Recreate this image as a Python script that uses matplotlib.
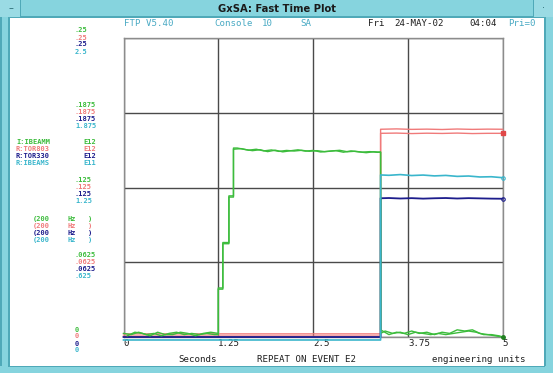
import matplotlib
matplotlib.use('Agg')
import matplotlib.pyplot as plt
from matplotlib.patches import Rectangle
from matplotlib.transforms import blended_transform_factory, offset_copy

# ---------------- data ----------------
x_ticks = [0, 1.25, 2.5, 3.75, 5]
x_tick_labels = ["0", "1.25", "2.5", "3.75", "5"]
y_ticks = [0.25, 0.1875, 0.125, 0.0625, 0]
scale_green = [".25", ".1875", ".125", ".0625", "0"]
scale_red = [".25", ".1875", ".125", ".0625", "0"]
scale_blue = [".25", ".1875", ".125", ".0625", "0"]
scale_cyan = ["2.5", "1.875", "1.25", ".625", "0"]

names = ["I:IBEAMM", "R:TOR803", "R:TOR330", "R:IBEAMS"]
exps = ["E12", "E12", "E12", "E11"]
rates = ["(200", "(200", "(200", "(200"]

green_a_t = [0.00, 0.10, 0.20, 0.30, 0.40, 0.50, 0.60, 0.70, 0.80, 0.90, 1.00, 1.10, 1.20, 1.25,
             1.25, 1.31, 1.31, 1.39, 1.39, 1.45, 1.45,
             1.55, 1.65, 1.75, 1.85, 1.95, 2.05, 2.15, 2.25, 2.35, 2.45, 2.55, 2.65, 2.75, 2.85,
             2.95, 3.05, 3.15, 3.25, 3.35, 3.39,
             3.39, 3.45, 3.55, 3.65, 3.75, 3.85, 3.95, 4.05, 4.15, 4.25, 4.35, 4.45, 4.55, 4.65,
             4.75, 4.85, 4.95, 5.00]
green_a_v = [0.003, 0.002, 0.004, 0.002, 0.003, 0.001, 0.003, 0.004, 0.002, 0.003, 0.002, 0.003, 0.002, 0.002,
             0.041, 0.041, 0.078, 0.078, 0.117, 0.117, 0.157,
             0.1575, 0.1562, 0.1570, 0.1556, 0.1564, 0.1552, 0.1560, 0.1555, 0.1561, 0.1553, 0.1558,
             0.1550, 0.1556, 0.1561, 0.1549, 0.1553, 0.1546, 0.1550, 0.1544, 0.1547,
             0.003, 0.005, 0.003, 0.004, 0.002, 0.004, 0.003, 0.002, 0.003, 0.002, 0.003, 0.004,
             0.005, 0.004, 0.002, 0.002, 0.001, 0.000]

green_b_t = [0.05, 0.15, 0.25, 0.35, 0.45, 0.55, 0.65, 0.75, 0.85, 0.95, 1.05, 1.15, 1.25,
             1.25, 1.31, 1.31, 1.39, 1.39, 1.45, 1.45,
             1.50, 1.60, 1.70, 1.80, 1.90, 2.00, 2.10, 2.20, 2.30, 2.40, 2.50, 2.60, 2.70, 2.80,
             2.90, 3.00, 3.10, 3.20, 3.30, 3.39,
             3.39, 3.50, 3.60, 3.70, 3.80, 3.90, 4.00, 4.10, 4.20, 4.30, 4.40, 4.50, 4.60, 4.70,
             4.80, 4.90, 5.00]
green_b_v = [0.001, 0.004, 0.003, 0.001, 0.004, 0.002, 0.002, 0.004, 0.003, 0.001, 0.003, 0.004, 0.003,
             0.040, 0.040, 0.079, 0.079, 0.118, 0.118, 0.158,
             0.1580, 0.1568, 0.1558, 0.1566, 0.1550, 0.1562, 0.1548, 0.1557, 0.1565, 0.1554, 0.1560,
             0.1547, 0.1552, 0.1558, 0.1545, 0.1556, 0.1548, 0.1541, 0.1549, 0.1545,
             0.006, 0.002, 0.004, 0.003, 0.005, 0.003, 0.004, 0.002, 0.004, 0.003, 0.006, 0.005,
             0.006, 0.003, 0.002, 0.001, 0.000]

red_a_t = [0.0, 3.39, 3.39, 3.60, 3.80, 4.00, 4.20, 4.40, 4.60, 4.80, 5.00]
red_a_v = [0.0026, 0.0026, 0.1737, 0.1740, 0.1736, 0.1738, 0.1735, 0.1739, 0.1736, 0.1738, 0.1737]
red_b_t = [0.0, 3.39, 3.39, 3.60, 3.80, 4.00, 4.20, 4.40, 4.60, 4.80, 5.00]
red_b_v = [0.0008, 0.0008, 0.1703, 0.1705, 0.1701, 0.1704, 0.1702, 0.1705, 0.1701, 0.1703, 0.1703]

blue_t = [0.0, 3.39, 3.39, 3.50, 3.65, 3.80, 3.95, 4.10, 4.25, 4.40, 4.55, 4.70, 4.85, 5.00]
blue_v = [0.000, 0.000, 0.1160, 0.1162, 0.1158, 0.1161, 0.1157, 0.1160, 0.1162, 0.1158, 0.1161,
          0.1159, 0.1157, 0.1156]

cyan_t = [0.0, 3.39, 3.39, 3.50, 3.65, 3.80, 3.95, 4.10, 4.25, 4.40, 4.55, 4.70, 4.85, 5.00]
cyan_v = [-0.025, -0.025, 1.355, 1.352, 1.358, 1.350, 1.354, 1.347, 1.351, 1.343, 1.346, 1.338,
          1.340, 1.332]

# ---------------- styling ----------------
W, H = 553, 373
GREEN = '#3cbc3c'
RED = '#f07a7a'
BLUE = '#1c1c8c'
CYAN = '#3ab6cc'
HEAD = '#4aaac4'
FRAME = '#86d4de'
FRAME_D = '#4fa9b8'
MONO = 'DejaVu Sans Mono'
FS = 6.6
FS_S = 5.0

fig = plt.figure(figsize=(W / 100, H / 100), dpi=100)
fig.patch.set_facecolor('white')


def fx(x):
    return x / W


def fy(y):
    return 1 - y / H


def rect(x0, y0, x1, y1, color, z=0):
    fig.patches.append(Rectangle((fx(x0), fy(y1)), (x1 - x0) / W, (y1 - y0) / H,
                                 transform=fig.transFigure, facecolor=color,
                                 edgecolor='none', zorder=z))


def txt(x, y, s, color='#202020', **kw):
    fig.text(fx(x), fy(y), s, color=color, fontsize=kw.pop('fontsize', FS),
             family=kw.pop('family', MONO), va=kw.pop('va', 'center'),
             ha=kw.pop('ha', 'left'), **kw)


# window chrome
rect(0, 0, W, 17, FRAME)
rect(0, 16, W, 17.5, FRAME_D)
rect(0, 0, 21, 17, '#9adbe4')
rect(20, 0, 21, 17, FRAME_D)
rect(533, 0, 534, 17, FRAME_D)
rect(534, 0, W, 17, '#9adbe4')
rect(0, 17, 9, H, FRAME)
rect(8, 17, 9.5, 366, FRAME_D)
rect(0, 17, 1.5, H, FRAME_D)
rect(545, 17, W, H, FRAME)
rect(544, 17, 545.5, 366, FRAME_D)
rect(0, 366, W, H, FRAME)
rect(8, 365.5, 545, 367, FRAME_D)
txt(10.5, 8.5, '\u2013', color='#2a6a74', ha='center', family='DejaVu Sans', fontsize=7)
txt(543.5, 8.5, '\u00b7', color='#2a6a74', ha='center', family='DejaVu Sans', fontsize=7)
txt(277, 8.5, 'GxSA: Fast Time Plot', color='#1a1a1a', ha='center',
    family='DejaVu Sans', fontsize=7.2, fontweight='bold')

# header line
txt(124, 24, 'FTP V5.40', color=HEAD)
txt(214, 24, 'Console', color=HEAD)
txt(262, 24, '10', color=HEAD)
txt(300, 24, 'SA', color=HEAD)
txt(368, 24, 'Fri', color='#202020')
txt(394, 24, '24-MAY-02', color='#202020')
txt(469, 24, '04:04', color='#202020')
txt(508, 24, 'Pri=0', color=HEAD)

# ---------------- plot axes ----------------
L, R, T, B = 123.5, 502.7, 38, 337
ax = fig.add_axes([fx(L), fy(B), (R - L) / W, (B - T) / H])
ax.set_xlim(0, 5)
ax.set_ylim(0, 0.25)
ax.set_xticks(x_ticks)
ax.set_xticklabels(x_tick_labels, ha='left', family=MONO, fontsize=FS, color='#202020')
ax.set_yticks(y_ticks)
ax.tick_params(length=0, labelleft=False, pad=1.5)
ax.grid(True, color='#4a4a4a', lw=1.0)
for sp in ax.spines.values():
    sp.set_color('#8c8c8c')
    sp.set_linewidth(1.0)
ax.set_facecolor('white')

ax.plot(red_a_t, red_a_v, color=RED, lw=1.0, clip_on=False, zorder=3)
ax.plot(red_b_t, red_b_v, color=RED, lw=1.0, clip_on=False, zorder=3)
ax.plot(red_b_t[-1:], red_b_v[-1:], 's', color='#e04848', ms=2.5, clip_on=False, zorder=3)
ax.plot(blue_t, blue_v, color=BLUE, lw=1.3, clip_on=False, zorder=3)
ax.plot(blue_t[-1:], blue_v[-1:], 'o', color=BLUE, ms=2.5, mfc='none', mew=0.8,
        clip_on=False, zorder=3)
ax.plot(green_a_t, green_a_v, color=GREEN, lw=1.0, clip_on=False, zorder=4)
ax.plot(green_b_t, green_b_v, color=GREEN, lw=1.0, clip_on=False, zorder=4)
ax.plot(green_a_t[-1:], green_a_v[-1:], 'o', color='#208020', ms=2.5, clip_on=False, zorder=4)

ax2 = ax.twinx()
ax2.set_ylim(0, 2.5)
ax2.set_axis_off()
ax2.plot(cyan_t, cyan_v, color=CYAN, lw=1.2, clip_on=False, zorder=2)
ax2.plot(cyan_t[-1:], cyan_v[-1:], 'o', color=CYAN, ms=2.5, mfc='none', mew=0.8, clip_on=False)

# left scale labels (four per grid line)
btr = blended_transform_factory(fig.transFigure, ax.transData)
offsets = [7.5, 0.5, -6.5, -13.5]
colors = [GREEN, RED, BLUE, CYAN]
for i, yv in enumerate(y_ticks):
    for lab_list, dy, col in zip([scale_green, scale_red, scale_blue, scale_cyan], offsets, colors):
        tr = offset_copy(btr, fig=fig, x=0, y=dy, units='dots')
        fig.text(fx(75), yv, lab_list[i], transform=tr, color=col, fontsize=FS_S,
                 family=MONO, va='center', ha='left', fontweight='bold')

# legend block
for i, (n, e, r) in enumerate(zip(names, exps, rates)):
    y = 142 + 7 * i
    txt(16, y, n, color=colors[i], fontsize=FS_S, fontweight='bold')
    txt(83, y, e, color=colors[i], fontsize=FS_S, fontweight='bold')
    y2 = 219 + 7 * i
    txt(33, y2, r, color=colors[i], fontsize=FS_S, fontweight='bold')
    txt(68, y2, 'Hz', color=colors[i], fontsize=FS_S, fontweight='bold')
    txt(88, y2, ')', color=colors[i], fontsize=FS_S, fontweight='bold')

# bottom texts
txt(178, 359, 'Seconds')
txt(257, 359, 'REPEAT ON EVENT E2')
txt(432, 359, 'engineering units')

fig.savefig('out.png', dpi=100, facecolor='white')
